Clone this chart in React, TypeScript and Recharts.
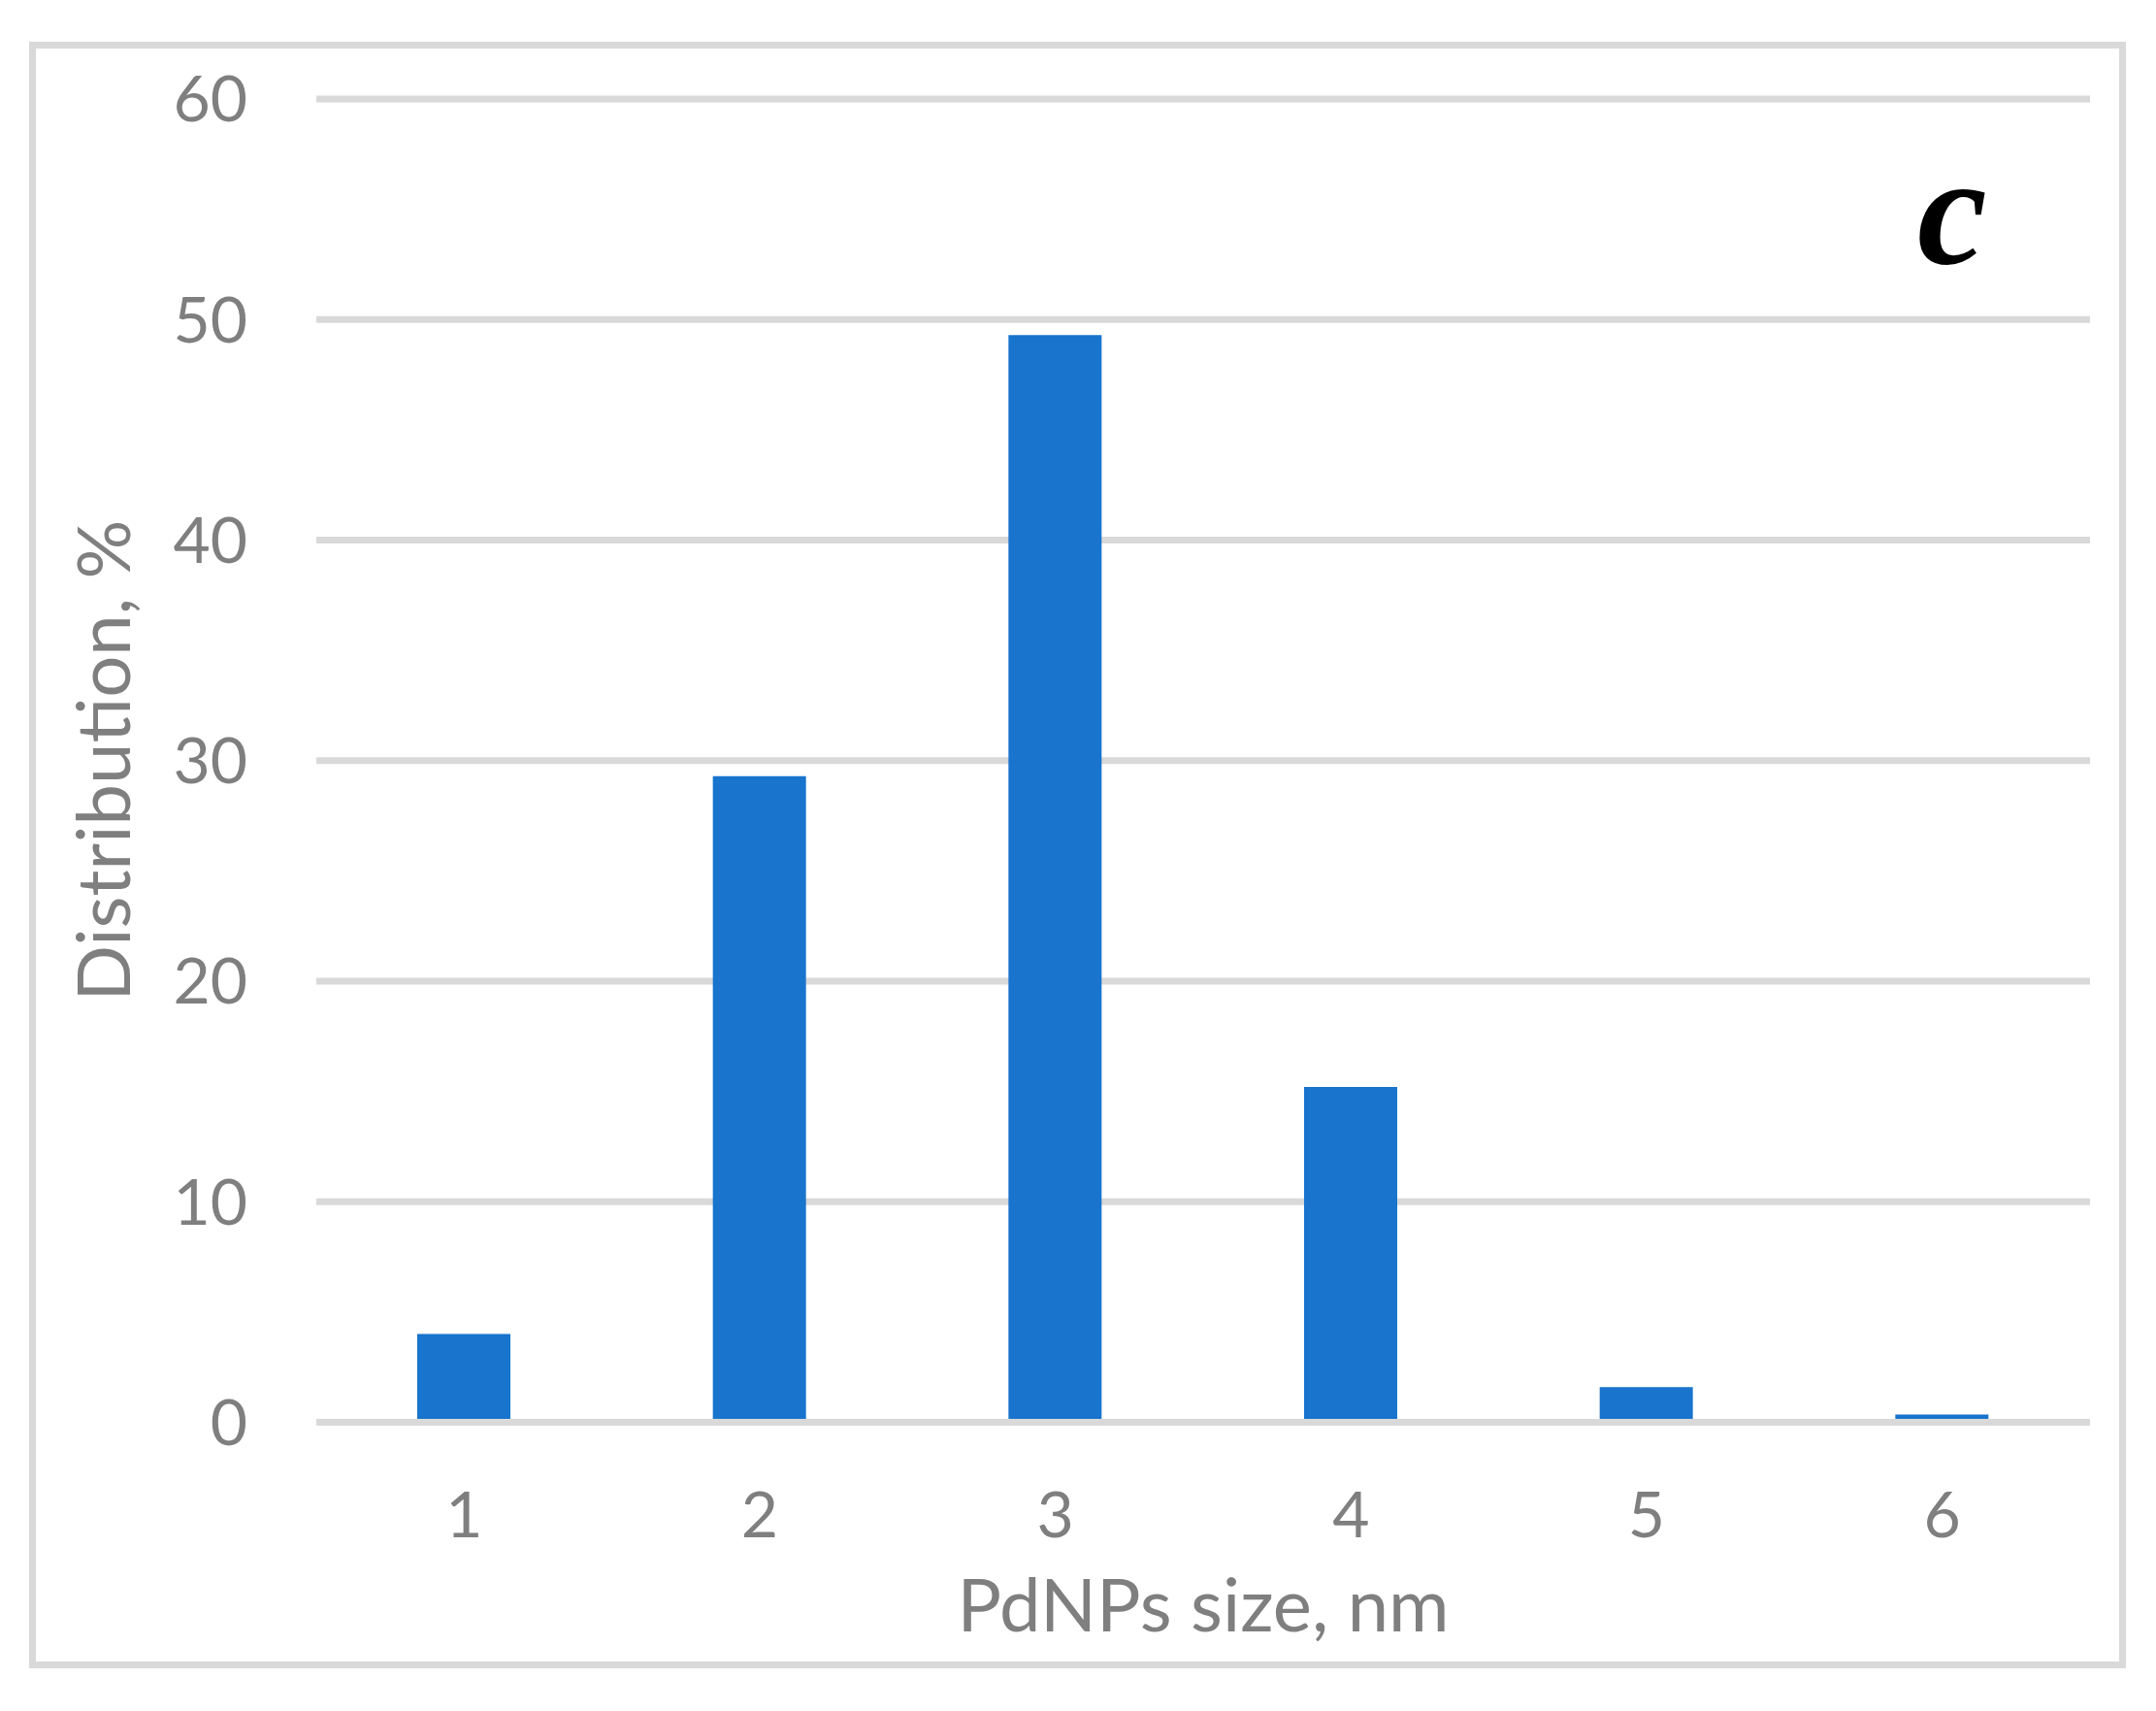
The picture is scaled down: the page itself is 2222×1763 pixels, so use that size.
import React from 'react';
import { BarChart, Bar, XAxis, YAxis, CartesianGrid, ReferenceLine, Label } from 'recharts';

const sizes = ['1', '2', '3', '4', '5', '6'];
const distribution = [4.0, 29.3, 49.3, 15.2, 1.6, 0.35];
const yTicks = [0, 10, 20, 30, 40, 50, 60];

const data = sizes.map((s, i) => ({ size: s, value: distribution[i] }));

const FONT = 'Lato, "Open Sans", sans-serif';
const GREY = '#7f7f7f';
const GRID = '#d9d9d9';

const YTitle = (props: any) => {
  const vb = props.viewBox;
  const cx = 134;
  const cy = vb.y + vb.height / 2;
  return (
    <text
      x={cx}
      y={cy}
      transform={`rotate(-90, ${cx}, ${cy})`}
      textAnchor="middle"
      fill={GREY}
      fontSize={76}
      fontFamily={FONT}
    >
      Distribution, %
    </text>
  );
};

const App: React.FC = () => {
  return (
    <div style={{ position: 'absolute', left: 0, top: 0, width: 2222, height: 1763, background: '#fff' }}>
      {/* outer frame */}
      <div
        style={{
          position: 'absolute',
          left: 30,
          top: 43,
          width: 2161,
          height: 1676,
          border: `7px solid ${GRID}`,
          boxSizing: 'border-box',
        }}
      />
      <BarChart
        width={2222}
        height={1763}
        data={data}
        margin={{ top: 102, right: 68, left: 0, bottom: 135.5 }}
        style={{ position: 'absolute', left: 0, top: 0 }}
      >
        <CartesianGrid vertical={false} stroke={GRID} strokeWidth={7} />
        <XAxis
          dataKey="size"
          height={162}
          axisLine={false}
          tickLine={false}
          tickMargin={65.5}
          tick={{ fill: GREY, fontSize: 66, fontFamily: FONT }}
        >
          <Label
            value="PdNPs size, nm"
            position="bottom"
            offset={0}
            fill={GREY}
            fontSize={76}
            fontFamily={FONT}
          />
        </XAxis>
        <YAxis
          width={326}
          domain={[0, 60]}
          ticks={yTicks}
          axisLine={false}
          tickLine={false}
          tickMargin={65}
          tick={{ fill: GREY, fontSize: 66, fontFamily: FONT }}
        >
          <Label content={<YTitle />} />
        </YAxis>
        <Bar dataKey="value" fill="#1874cd" barSize={96} isAnimationActive={false} />
        <ReferenceLine y={0} stroke={GRID} strokeWidth={7} />
      </BarChart>
      {/* panel letter */}
      <svg width={2222} height={1763} style={{ position: 'absolute', left: 0, top: 0, pointerEvents: 'none' }}>
        <text
          x={1976}
          y={271}
          fontSize={162}
          fontWeight="bold"
          fontStyle="italic"
          fontFamily='"Liberation Serif", "DejaVu Serif", serif'
          fill="#000"
        >
          c
        </text>
      </svg>
    </div>
  );
};

export default App;
